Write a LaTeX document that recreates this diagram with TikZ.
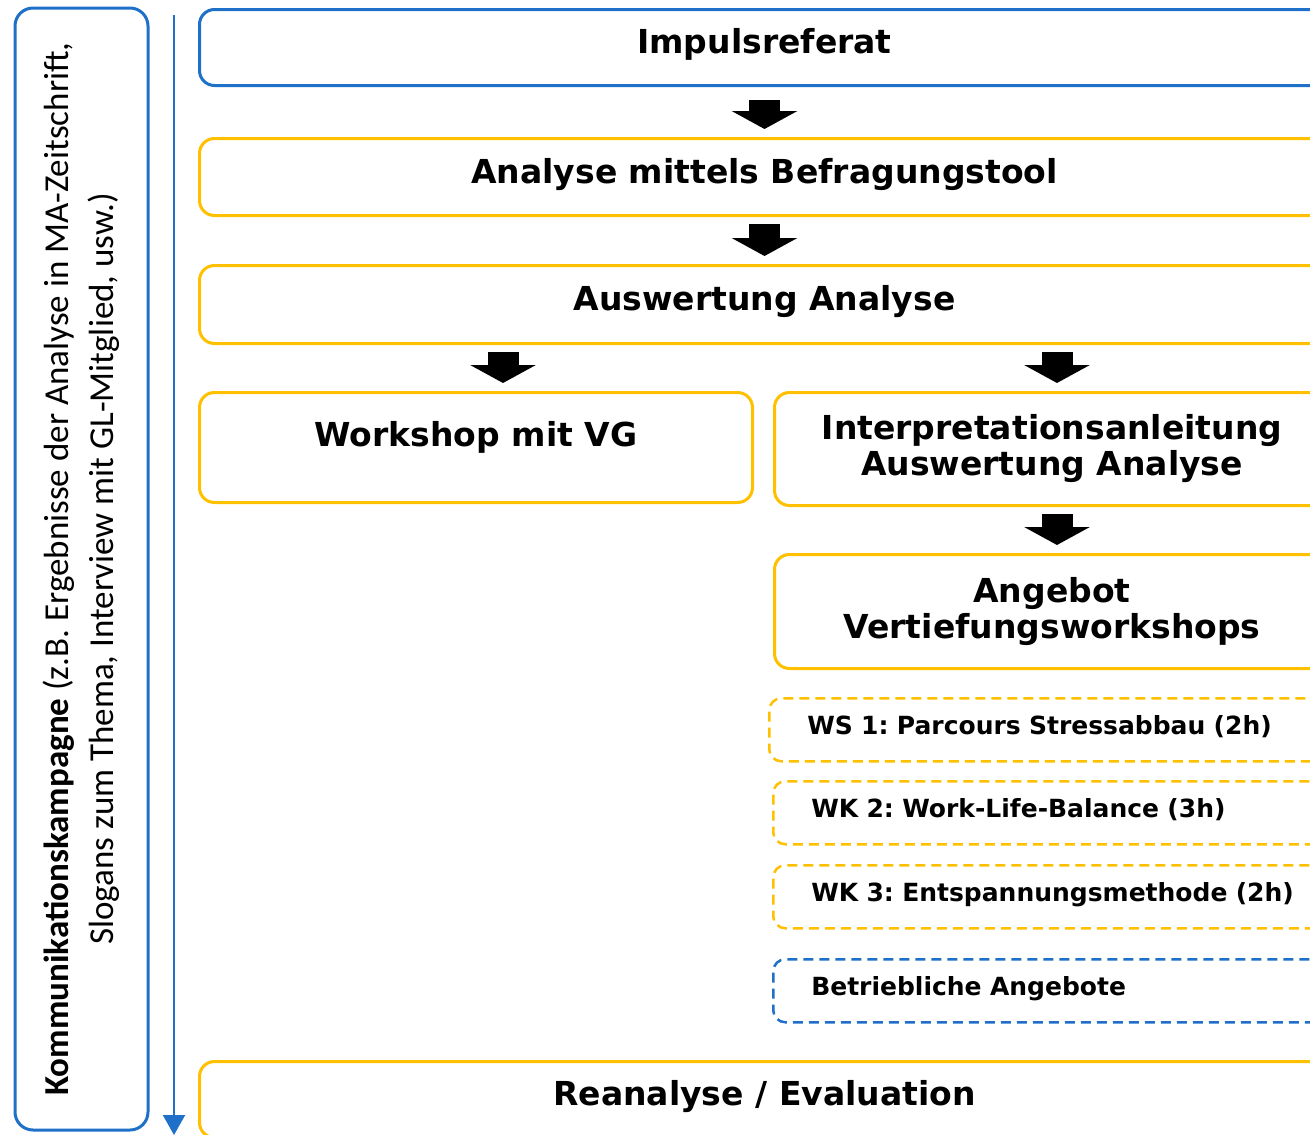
\documentclass[tikz,border=0pt]{standalone}
\usepackage{fontspec}
\setmainfont{DejaVu Sans}
\newfontfamily\sidefont{Carlito}
\usetikzlibrary{positioning, arrows.meta, calc}
\definecolor{boxblue}{RGB}{30,112,200}
\definecolor{boxyellow}{RGB}{255,192,0}
\frenchspacing

\begin{document}
\begin{tikzpicture}[
        x=1pt, y=-1pt,
        block/.style={
            rectangle,
            draw=boxyellow,
            line width=3pt,
            rounded corners=15pt,
            anchor=north west,
            minimum width=1130pt,
            align=center,
            font=\fontsize{33}{36}\selectfont\bfseries
        },
        oneline/.style={text height=24pt, text depth=12pt},
        wsbox/.style={
            block,
            dash pattern=on 10pt off 6pt,
            line width=2.5pt,
            rounded corners=12pt,
            minimum width=580pt,
            minimum height=63pt,
            text width=504pt,
            inner xsep=38pt,
            align=left,
            text height=19pt, text depth=10pt,
            font=\fontsize{25}{30}\selectfont\bfseries
        },
        sidebox/.style={
            rectangle,
            draw=boxblue,
            line width=3pt,
            rounded corners=18pt,
            minimum width=1122pt,
            minimum height=133pt,
            align=center,
            font=\sidefont\fontsize{35}{45}\selectfont
        },
        bigarrow/.style={line width=31pt, -{Triangle[length=18pt, width=65pt]}, shorten <=7pt, shorten >=8pt},
        timeline/.style={draw=boxblue, line width=2pt, -{Triangle[length=20pt, width=22pt]}}
    ]
        \fill[white] (0,0) rectangle (1310,1135);
        \useasboundingbox (0,0) rectangle (1310,1135);
        \clip (0,0) rectangle (1310,1135);

        % Side box with the campaign
        \node [sidebox, rotate=90] (kampagne) at (81.5,569) {{\bfseries Kommunikationskampagne} (z.B. Ergebnisse der Analyse in MA-Zeitschrift,\\Slogans zum Thema, Interview mit GL-Mitglied, usw.)};
        \coordinate (timetop) at (174,15);
        \coordinate (timeend) at (174,1135);
        \draw [timeline] (timetop) -- (timeend);

        % Main steps
        \node [block, draw=boxblue, oneline, minimum height=76pt] (impuls) at (198,8) {Impulsreferat};
        \node [block, oneline, minimum height=77pt] (befragung) at (198,137) {Analyse mittels Befragungstool};
        \node [block, oneline, minimum height=78pt] (auswertung) at (198,264) {Auswertung Analyse};
        \node [block, minimum width=553pt, minimum height=110pt, text height=24pt, text depth=27pt] (workshop) at (198,391) {Workshop mit VG};
        \node [block, minimum width=555pt, minimum height=113pt] (interpretation) at (773,391) {Interpretationsanleitung\\Auswertung Analyse};
        \node [block, minimum width=555pt, minimum height=114pt] (angebot) at (773,553) {Angebot\\Vertiefungsworkshops};

        % Workshops (dashed)
        \node [wsbox] (ws1) at (768,697) {WS 1: Parcours Stressabbau (2h)};
        \node [wsbox] (wk2) at (772,780) {WK 2: Work-Life-Balance (3h)};
        \node [wsbox] (wk3) at (772,864) {WK 3: Entspannungsmethode (2h)};
        \node [wsbox, draw=boxblue] (betrieb) at (772,958) {Betriebliche Angebote};

        \node [block, oneline, minimum height=76pt] (reanalyse) at (198,1060) {Reanalyse / Evaluation};

        % Arrows
        \draw [bigarrow, shorten <=13pt] (impuls.south) -- (befragung.north);
        \draw [bigarrow] (befragung.south) -- (auswertung.north);
        \draw [bigarrow] ([xshift=27pt]workshop.north |- auswertung.south) -- ([xshift=27pt]workshop.north);
        \draw [bigarrow] ([xshift=5pt]interpretation.north |- auswertung.south) -- ([xshift=5pt]interpretation.north);
        \draw [bigarrow] ([xshift=5pt]interpretation.south) -- ([xshift=5pt]angebot.north);
    \end{tikzpicture}
\end{document}
